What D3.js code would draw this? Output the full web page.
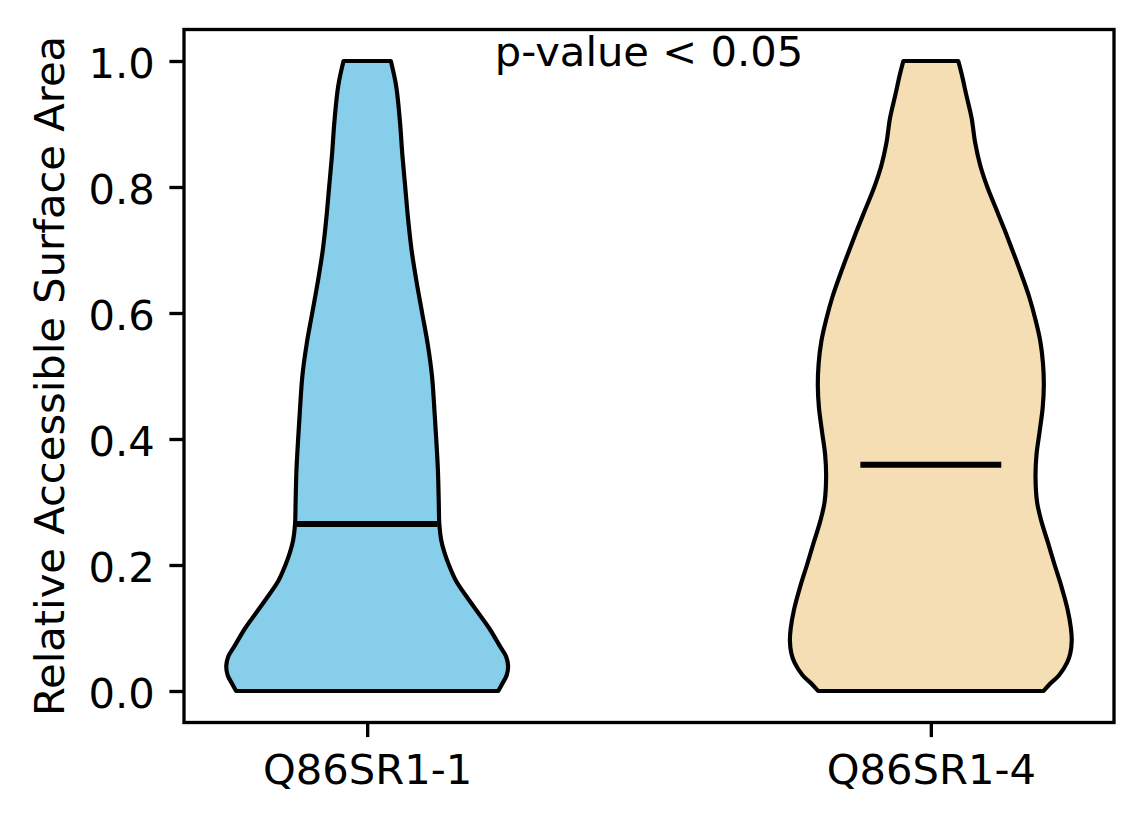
<!DOCTYPE html>
<html>
<head>
<meta charset="utf-8">
<script src="https://cdn.jsdelivr.net/npm/d3@7"></script>
<style>
  html, body { margin: 0; padding: 0; background: #fff; }
  svg { display: block; }
  text { font-family: "DejaVu Sans", sans-serif; }
</style>
</head>
<body>
<svg id="chart" width="1144" height="824"></svg>
<script>
// ---------- data ----------
const categories = ["Q86SR1-1", "Q86SR1-4"];
const positions = [1, 2];
const fillColors = ["#87CEEB", "#F5DEB3"];

// violin 1: value levels and relative density (max = 1)
const levels1 = [0, 0.01, 0.025, 0.04, 0.055, 0.07, 0.1, 0.125, 0.15, 0.175, 0.2, 0.22, 0.24, 0.265, 0.3, 0.35, 0.4, 0.45, 0.5, 0.55, 0.6, 0.65, 0.7, 0.75, 0.8, 0.85, 0.9, 0.95, 0.97, 1.0];
const density1 = [0.93, 0.955, 0.99, 1.0, 0.985, 0.945, 0.865, 0.785, 0.705, 0.63, 0.58, 0.548, 0.525, 0.512, 0.508, 0.502, 0.49, 0.476, 0.46, 0.43, 0.39, 0.35, 0.315, 0.29, 0.27, 0.25, 0.234, 0.212, 0.198, 0.168];

// violin 2
const levels2 = [0, 0.01, 0.025, 0.045, 0.06, 0.08, 0.1, 0.13, 0.165, 0.2, 0.235, 0.27, 0.3, 0.34, 0.375, 0.41, 0.45, 0.485, 0.52, 0.555, 0.59, 0.625, 0.66, 0.695, 0.73, 0.765, 0.8, 0.835, 0.87, 0.91, 0.945, 0.98, 1.0];
const density2 = [0.80, 0.84, 0.91, 0.967, 0.99, 1.0, 0.994, 0.97, 0.928, 0.879, 0.832, 0.784, 0.754, 0.743, 0.75, 0.771, 0.794, 0.802, 0.796, 0.777, 0.742, 0.699, 0.645, 0.587, 0.527, 0.464, 0.401, 0.35, 0.315, 0.289, 0.253, 0.218, 0.195];

const medians = [0.265, 0.359];
const yTicks = [0, 0.2, 0.4, 0.6, 0.8, 1.0];
const yLabel = "Relative Accessible Surface Area";
const annotation = "p-value < 0.05";

// ---------- layout ----------
const FS = 41.67;
const plotL = 184, plotR = 1114, plotT = 29.5, plotB = 722.5;
const svg = d3.select("#chart");

const x = d3.scaleLinear().domain([0.675, 2.325]).range([plotL, plotR]);
const y = d3.scaleLinear().domain([-0.05, 1.05]).range([plotB, plotT]);
const halfWidth = d3.scaleLinear().domain([0, 1]).range([0, 0.25]);

const violins = [
  { pos: positions[0], levels: levels1, density: density1, color: fillColors[0], median: medians[0] },
  { pos: positions[1], levels: levels2, density: density2, color: fillColors[1], median: medians[1] }
];

const area = d3.area()
  .curve(d3.curveCatmullRom.alpha(0.5))
  .y(d => y(d.v))
  .x0(d => x(d.p - halfWidth(d.w)))
  .x1(d => x(d.p + halfWidth(d.w)));

violins.forEach(vn => {
  const pts = vn.levels.map((v, i) => ({ v: v, w: vn.density[i], p: vn.pos }));
  svg.append("path")
    .attr("d", area(pts))
    .attr("fill", vn.color)
    .attr("stroke", "#000")
    .attr("stroke-width", 4.17)
    .attr("stroke-linejoin", "round");
  svg.append("line")
    .attr("x1", x(vn.pos - 0.125)).attr("x2", x(vn.pos + 0.125))
    .attr("y1", y(vn.median)).attr("y2", y(vn.median))
    .attr("stroke", "#000").attr("stroke-width", 6);
});

// ---------- axes ----------
const yAxis = d3.axisLeft(y).tickValues(yTicks).tickFormat(d3.format(".1f"))
  .tickSize(14.6).tickPadding(14.6);
const gy = svg.append("g").attr("transform", `translate(${plotL},0)`).call(yAxis);
gy.select(".domain").remove();
gy.selectAll(".tick line").attr("stroke-width", 3.33);
gy.selectAll(".tick text").attr("font-size", FS).attr("font-family", "DejaVu Sans").attr("fill", "#000").attr("dy", "0.40em");

const xAxis = d3.axisBottom(x).tickValues(positions).tickFormat((d, i) => categories[i])
  .tickSize(14.6).tickPadding(14.6);
const gx = svg.append("g").attr("transform", `translate(0,${plotB})`).call(xAxis);
gx.select(".domain").remove();
gx.selectAll(".tick line").attr("stroke-width", 3.33);
gx.selectAll(".tick text").attr("font-size", FS).attr("font-family", "DejaVu Sans").attr("fill", "#000").attr("dy", "0.78em");

// frame
svg.append("rect")
  .attr("x", plotL).attr("y", plotT)
  .attr("width", plotR - plotL).attr("height", plotB - plotT)
  .attr("fill", "none").attr("stroke", "#000").attr("stroke-width", 3.33);

// y label
svg.append("text")
  .attr("transform", `translate(64,${(plotT + plotB) / 2}) rotate(-90)`)
  .attr("text-anchor", "middle")
  .attr("font-size", FS)
  .attr("fill", "#000")
  .text(yLabel);

// annotation
svg.append("text")
  .attr("x", x(1.5)).attr("y", 66)
  .attr("text-anchor", "middle")
  .attr("font-size", FS)
  .attr("fill", "#000")
  .text(annotation);
</script>
</body>
</html>
